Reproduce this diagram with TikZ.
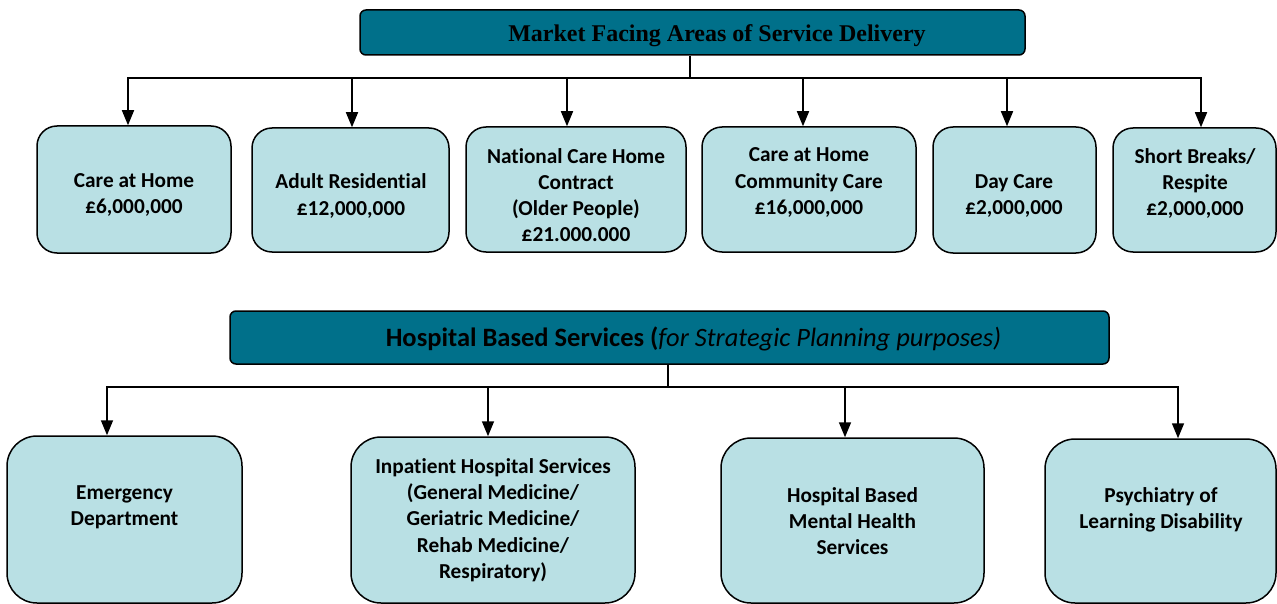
\documentclass[tikz,border=0pt]{standalone}
\usepackage{fontspec}
\setmainfont{Carlito}[Ligatures=NoCommon]
\newfontfamily\timesf{Liberation Serif}
\usetikzlibrary{arrows.meta}
\definecolor{hdrteal}{RGB}{0,112,138}
\definecolor{boxblue}{RGB}{185,224,228}
\begin{document}
\begin{tikzpicture}[x=1pt,y=-1pt,
  hdr/.style={draw=black, line width=1.5pt, fill=hdrteal, rounded corners=6pt, inner sep=0pt},
  cbox/.style={draw=black, line width=1.5pt, fill=boxblue, rounded corners=20pt, inner sep=0pt},
  hbox/.style={cbox, rounded corners=30pt},
  txt/.style={align=center, font=\fontsize{21.3}{26.2}\selectfont\bfseries, inner sep=0pt},
  arr/.style={line width=1.6pt, -{Triangle[width=12pt,length=15pt]}},
  busline/.style={line width=1.6pt}]
\useasboundingbox (0,0) rectangle (1277,604);

% top header
\node[hdr, minimum width=665pt, minimum height=45pt] (top) at (692.5,32.5) {};
\node[font=\timesf\fontsize{24}{28}\selectfont\bfseries, inner sep=0pt] (toptxt) at (717,36) {Market Facing Areas of Service Delivery};
\coordinate (bus1) at (690,78);

% top boxes
\node[cbox, minimum width=194pt, minimum height=127pt] (b1) at (134,189.5) {};
\node[cbox, minimum width=197pt, minimum height=124pt] (b2) at (350.5,190) {};
\node[cbox, minimum width=220pt, minimum height=125pt] (b3) at (576,189.5) {};
\node[cbox, minimum width=214pt, minimum height=125pt] (b4) at (809,189.5) {};
\node[cbox, minimum width=163pt, minimum height=126pt] (b5) at (1014.5,190) {};
\node[cbox, minimum width=163pt, minimum height=124pt] (b6) at (1194.5,190) {};

\node[txt] (t1) at (134,195) {Care at Home\\£6,000,000};
\node[txt] (t2) at (351,196) {Adult Residential\\£12,000,000};
\node[txt] (t3) at (576,195) {National Care Home\\Contract\\(Older People)\\£21.000.000};
\node[txt] (t4) at (809,182.5) {Care at Home\\Community Care\\£16,000,000};
\node[txt] (t5) at (1014,196) {Day Care\\£2,000,000};
\node[txt] (t6) at (1195,183.5) {Short Breaks/\\Respite\\£2,000,000};

\draw[busline] (bus1 |- top.south) -- (bus1);
\draw[arr] (bus1) -| ([xshift=-6pt]b1.north);
\draw[arr] (bus1) -| ([xshift=1.5pt]b2.north);
\draw[arr] (bus1) -| ([xshift=-9pt]b3.north);
\draw[arr] (bus1) -| ([xshift=-6pt]b4.north);
\draw[arr] (bus1) -| ([xshift=-7.5pt]b5.north);
\draw[arr] (bus1) -| ([xshift=6.5pt]b6.north);

% bottom header
\node[hdr, minimum width=879pt, minimum height=53pt] (bot) at (669.5,337.5) {};
\node[font=\fontsize{26.5}{30}\selectfont, inner sep=0pt] (bottxt) at (693.5,339) {\bfseries Hospital Based Services (\mdseries\itshape for Strategic Planning purposes)};
\coordinate (bus2) at (668,387);

% bottom boxes
\node[hbox, minimum width=235pt, minimum height=167pt] (h1) at (124.5,519.5) {};
\node[hbox, minimum width=284pt, minimum height=166pt] (h2) at (493,520) {};
\node[hbox, minimum width=263pt, minimum height=165pt] (h3) at (852.5,520.5) {};
\node[hbox, minimum width=231pt, minimum height=164pt] (h4) at (1160.5,521) {};

\node[txt] (u1) at (124.5,507) {Emergency\\Department};
\node[txt] (u2) at (493,520) {Inpatient Hospital Services\\(General Medicine/\\Geriatric Medicine/\\Rehab Medicine/\\Respiratory)};
\node[txt] (u3) at (852.5,521) {Hospital Based\\Mental Health\\Services};
\node[txt] (u4) at (1161,509.5) {Psychiatry of\\Learning Disability};

\draw[busline] (bus2 |- bot.south) -- (bus2);
\draw[arr] (bus2) -| ([xshift=-17.5pt]h1.north);
\draw[arr] (bus2) -| ([xshift=-5pt]h2.north);
\draw[arr] (bus2) -| ([xshift=-7.5pt]h3.north);
\draw[arr] (bus2) -| ([xshift=17.5pt]h4.north);
\end{tikzpicture}
\end{document}
